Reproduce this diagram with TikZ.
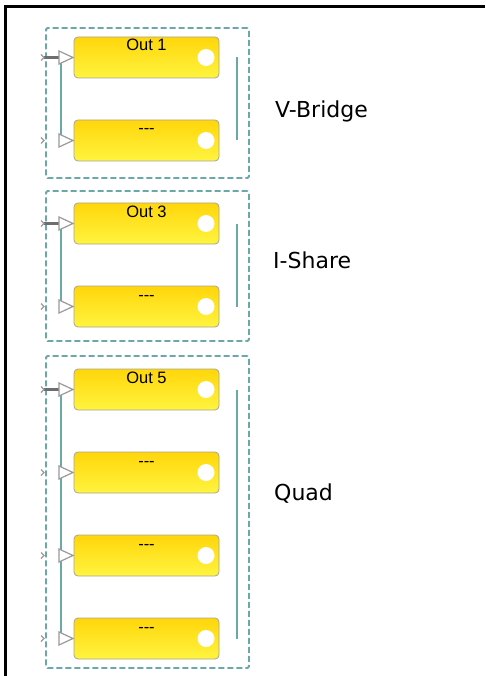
\documentclass[tikz,border=0pt]{standalone}
\usepackage{fontspec}
\setmainfont{Liberation Sans}
\newfontfamily\grpfont{DejaVu Sans}
\usetikzlibrary{positioning}
\definecolor{outtop}{HTML}{FFD60A}
\definecolor{outbot}{HTML}{FFF43F}
\definecolor{outedge}{HTML}{A6A39A}
\definecolor{buscol}{HTML}{6AA8AA}
\definecolor{portcol}{HTML}{9A9A9A}
\definecolor{leadcol}{HTML}{6E6E6E}

\begin{document}
\begin{tikzpicture}[
  x=1pt, y=1pt,
  node distance=42pt,
  outbox/.style={
    draw=outedge, top color=outtop, bottom color=outbot, line width=0.8pt,
    rounded corners=4pt, minimum width=145pt, minimum height=41pt, outer sep=0pt,
    inner ysep=2pt, text height=12pt, text depth=25pt,
    font=\fontsize{16.5}{18}\selectfont,
    path picture={\fill[white] ([xshift=-13pt]path picture bounding box.east) circle (8.5pt);}
  },
  grp/.style={
    draw=buscol, line width=1.8pt, dash pattern=on 6pt off 3pt,
    rounded corners=1.5pt, minimum width=203pt, outer sep=0pt
  },
  bus/.style={draw=buscol, line width=2pt},
  lead/.style={draw=leadcol, line width=2.5pt},
  port/.style={draw=portcol, fill=white, line width=1.2pt},
  tick/.style={draw=portcol, line width=1.1pt},
  grplabel/.style={font=\grpfont\fontsize{22}{26}\selectfont, anchor=base west, inner sep=0pt}
]
\useasboundingbox (0,0) rectangle (485,-676);

% outer frame
\draw[line width=3pt] (5,-676) -- (5,-6.5) -- (485,-6.5);

% groups
\node[grp, minimum height=150pt] (vbridge) at (147.5,-103) {};
\node[grp, minimum height=150pt] (ishare) at (147.5,-266) {};
\node[grp, minimum height=312pt] (quad) at (147.5,-512) {};

% output blocks
\node[outbox] (out1) at (146.5,-57.5) {Out 1};
\node[outbox, below=of out1] (out2) {-{}-{}-};
\node[outbox, below=of out2] (out3) {Out 3};
\node[outbox, below=of out3] (out4) {-{}-{}-};
\node[outbox, below=of out4] (out5) {Out 5};
\node[outbox, below=of out5] (out6) {-{}-{}-};
\node[outbox, below=of out6] (out7) {-{}-{}-};
\node[outbox, below=of out7] (out8) {-{}-{}-};

% input buses
\draw[bus] ([xshift=-13pt]out1.west) -- ([xshift=-13pt]out2.west);
\draw[bus] ([xshift=-13pt]out3.west) -- ([xshift=-13pt]out4.west);
\draw[bus] ([xshift=-13pt]out5.west) -- ([xshift=-13pt]out8.west);

% feeds into first block
\draw[lead] ([xshift=-30pt]out1.west) -- ([xshift=-15pt]out1.west);
\draw[lead] ([xshift=-30pt]out3.west) -- ([xshift=-15pt]out3.west);
\draw[lead] ([xshift=-30pt]out5.west) -- ([xshift=-15pt]out5.west);

% ports
\foreach \o in {out1,out2,out3,out4,out5,out6,out7,out8}{
  \draw[tick] ([shift={(-33,3)}]\o.west) -- ++(3,-3) -- ++(-3,-3);
  \filldraw[port] ([xshift=-1pt]\o.west) -- ++(-14,6.5) -- ++(0,-13) -- cycle;
}

% right side bars
\draw[bus] ([xshift=18pt]out1.east) -- ([xshift=18pt]out2.east);
\draw[bus] ([xshift=18pt]out3.east) -- ([xshift=18pt]out4.east);
\draw[bus] ([xshift=18pt]out5.east) -- ([xshift=18pt]out8.east);

% group names
\node[grplabel] (vbridgelbl) at (275,-118) {V-Bridge};
\node[grplabel] (isharelbl) at (273,-268) {I-Share};
\node[grplabel] (quadlbl) at (274,-500) {Quad};

\end{tikzpicture}
\end{document}
